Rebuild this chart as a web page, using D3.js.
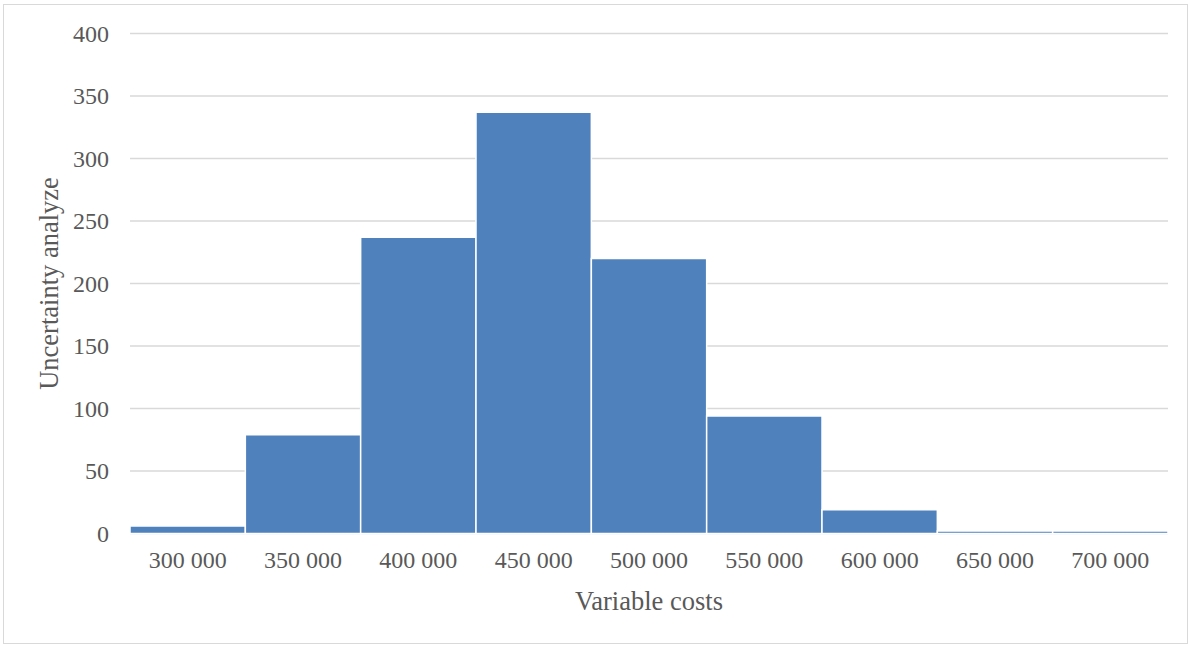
<!DOCTYPE html>
<html lang="en">
<head>
    <meta charset="UTF-8">
    <title>Variable costs histogram</title>
    <script src="https://cdn.jsdelivr.net/npm/d3@7"></script>
    <style>
        body { margin: 0; background: #fff; }
        text { font-family: "Liberation Serif", "Times New Roman", serif; fill: #595959; }
    </style>
</head>
<body>
    <div id="chart"></div>
    <script>
        // data
        const bins = ["300 000", "350 000", "400 000", "450 000", "500 000", "550 000", "600 000", "650 000", "700 000"];
        const counts = [6, 79, 237, 337, 220, 94, 19, 2, 2];
        const yTicks = [0, 50, 100, 150, 200, 250, 300, 350, 400];

        const W = 1198, H = 645;
        const margin = { top: 33.5, right: 30, bottom: 111.5, left: 130 };
        const width = 1168 - margin.left;
        const height = H - margin.top - margin.bottom;

        const root = d3.select("#chart").append("svg")
            .attr("width", W)
            .attr("height", H);

        // outer chart border
        root.append("rect")
            .attr("x", 3.5).attr("y", 4.5)
            .attr("width", 1184).attr("height", 639)
            .attr("fill", "none")
            .attr("stroke", "#d9d9d9")
            .attr("stroke-width", 1);

        const svg = root.append("g")
            .attr("transform", `translate(${margin.left},${margin.top})`);

        const x = d3.scaleBand()
            .domain(bins)
            .range([0, width])
            .padding(0);

        const y = d3.scaleLinear()
            .domain([0, 400])
            .range([height, 0]);

        // gridlines
        svg.selectAll(".grid")
            .data(yTicks)
            .enter().append("line")
            .attr("class", "grid")
            .attr("x1", 0)
            .attr("x2", width)
            .attr("y1", d => y(d))
            .attr("y2", d => y(d))
            .attr("stroke", "#d9d9d9")
            .attr("stroke-width", 1.3);

        // bars
        svg.selectAll(".bar")
            .data(counts)
            .enter().append("rect")
            .attr("class", "bar")
            .attr("x", (d, i) => x(bins[i]))
            .attr("y", d => y(d))
            .attr("width", x.bandwidth())
            .attr("height", d => height - y(d))
            .attr("fill", "#4f81bd")
            .attr("stroke", "#fff")
            .attr("stroke-width", 1.5);

        // y axis labels
        const yAxis = svg.append("g")
            .call(d3.axisLeft(y).tickValues(yTicks).tickSize(0).tickPadding(21));
        yAxis.select(".domain").remove();
        yAxis.selectAll("text")
            .style("font-size", "24px")
            .attr("dy", "0.33em");

        // x axis labels
        const xAxis = svg.append("g")
            .attr("transform", `translate(0,${height})`)
            .call(d3.axisBottom(x).tickSize(0).tickPadding(17));
        xAxis.select(".domain").remove();
        xAxis.selectAll("text")
            .style("font-size", "24px");

        // axis titles
        svg.append("text")
            .attr("x", width / 2)
            .attr("y", height + 76)
            .attr("text-anchor", "middle")
            .style("font-size", "26.5px")
            .text("Variable costs");

        svg.append("text")
            .attr("transform", "rotate(-90)")
            .attr("x", -(283.5 - margin.top))
            .attr("y", -72)
            .attr("text-anchor", "middle")
            .style("font-size", "26.5px")
            .text("Uncertainty analyze");
    </script>
</body>
</html>
